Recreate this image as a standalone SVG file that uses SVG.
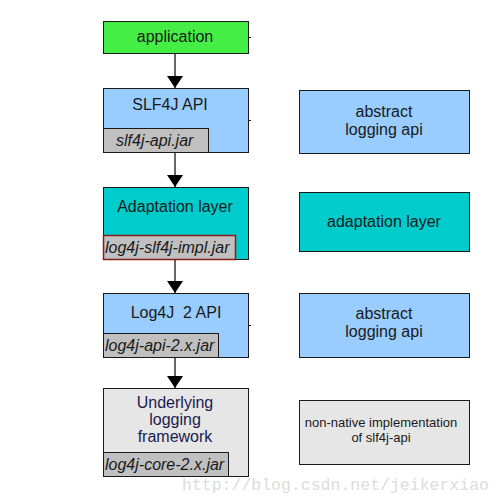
<svg xmlns="http://www.w3.org/2000/svg" width="500" height="500" viewBox="0 0 500 500">
<defs>
<marker id="arr" markerWidth="12" markerHeight="16" refX="12" refY="8" orient="auto" markerUnits="userSpaceOnUse">
<path d="M0,0 L12,8 L0,16 Z" fill="#000"/>
</marker>
<style>
.box{stroke:#1a1a1a;stroke-width:1}
.jar{fill:#c0c0c0;stroke:#1a1a1a;stroke-width:1}
.t{font-family:"Liberation Sans",Arial,sans-serif;font-size:16px;fill:#1a1a1a;text-anchor:middle}
.j{font-family:"Liberation Sans",Arial,sans-serif;font-size:16px;font-style:italic;fill:#1a1a1a}
.s{font-family:"Liberation Sans",Arial,sans-serif;font-size:13px;fill:#1a1a1a;text-anchor:middle}
.blue{fill:#99ccff}
.cyan{fill:#00cccc}
.grey{fill:#e6e6e6}
.tick{stroke:#1a1a1a;stroke-width:1}
</style>
</defs>
<rect width="500" height="500" fill="#fff"/>
<g id="connectors">
<line x1="175" y1="53" x2="175" y2="88" stroke="#000" stroke-width="1.2" marker-end="url(#arr)"/>
<line x1="175" y1="152" x2="175" y2="187" stroke="#000" stroke-width="1.2" marker-end="url(#arr)"/>
<line x1="175" y1="259" x2="175" y2="293" stroke="#000" stroke-width="1.2" marker-end="url(#arr)"/>
<line x1="175" y1="357" x2="175" y2="388" stroke="#000" stroke-width="1.2" marker-end="url(#arr)"/>
</g>
<g id="application">
<rect class="box" x="103.5" y="21.5" width="145" height="32" fill="#44ee44"/>
<line class="tick" x1="248" y1="37.5" x2="251" y2="37.5"/>
<text class="t" x="175" y="42">application</text>
</g>
<g id="slf4j-api">
<rect class="box blue" x="103.5" y="88.5" width="145" height="64"/>
<line class="tick" x1="248" y1="120.5" x2="251" y2="120.5"/>
<text class="t" x="170" y="110">SLF4J API</text>
<rect class="jar" x="103.5" y="128.5" width="105" height="24"/>
<text class="j" x="116" y="146">slf4j-api.jar</text>
</g>
<g id="adaptation">
<rect class="box cyan" x="103.5" y="187.5" width="145" height="72"/>
<text class="t" x="175" y="212">Adaptation layer</text>
<rect x="103.5" y="235.5" width="132" height="24" fill="#c0c0c0" stroke="#8b1a1a" stroke-width="1.5"/>
<text class="j" x="105" y="253">log4j-slf4j-impl.jar</text>
</g>
<g id="log4j-api">
<rect class="box blue" x="103.5" y="293.5" width="145" height="64"/>
<line class="tick" x1="248" y1="325.5" x2="251" y2="325.5"/>
<text class="t" x="176" y="318" xml:space="preserve">Log4J  2 API</text>
<rect class="jar" x="103.5" y="333.5" width="115" height="24"/>
<text class="j" x="105" y="351">log4j-api-2.x.jar</text>
</g>
<g id="log4j-core">
<rect class="box grey" x="103.5" y="388.5" width="145" height="88"/>
<text class="t" x="175" y="408" style="fill:#1a1a50">Underlying</text>
<text class="t" x="175" y="425" style="fill:#1a1a50">logging</text>
<text class="t" x="175" y="442" style="fill:#1a1a50">framework</text>
<rect class="jar" x="103.5" y="452.5" width="125" height="24"/>
<text class="j" x="105" y="470">log4j-core-2.x.jar</text>
</g>
<g id="legend-abstract1">
<rect class="box blue" x="299.5" y="90.5" width="170" height="63"/>
<text class="t" x="384" y="117">abstract</text>
<text class="t" x="384" y="135">logging api</text>
</g>
<g id="legend-adaptation">
<rect class="box cyan" x="299.5" y="192.5" width="170" height="59"/>
<text class="t" x="384" y="227">adaptation layer</text>
</g>
<g id="legend-abstract2">
<rect class="box blue" x="299.5" y="293.5" width="170" height="64"/>
<text class="t" x="384" y="319">abstract</text>
<text class="t" x="384" y="337">logging api</text>
</g>
<g id="legend-nonnative">
<rect class="box grey" x="299.5" y="400.5" width="170" height="64"/>
<text class="s" x="381" y="427">non-native implementation</text>
<text class="s" x="381" y="442">of slf4j-api</text>
</g>
<text x="182" y="490" font-family="Liberation Mono,'Courier New',monospace" font-size="16.5" fill="#dcdcdc">http://blog.csdn.net/jeikerxiao</text>
</svg>
